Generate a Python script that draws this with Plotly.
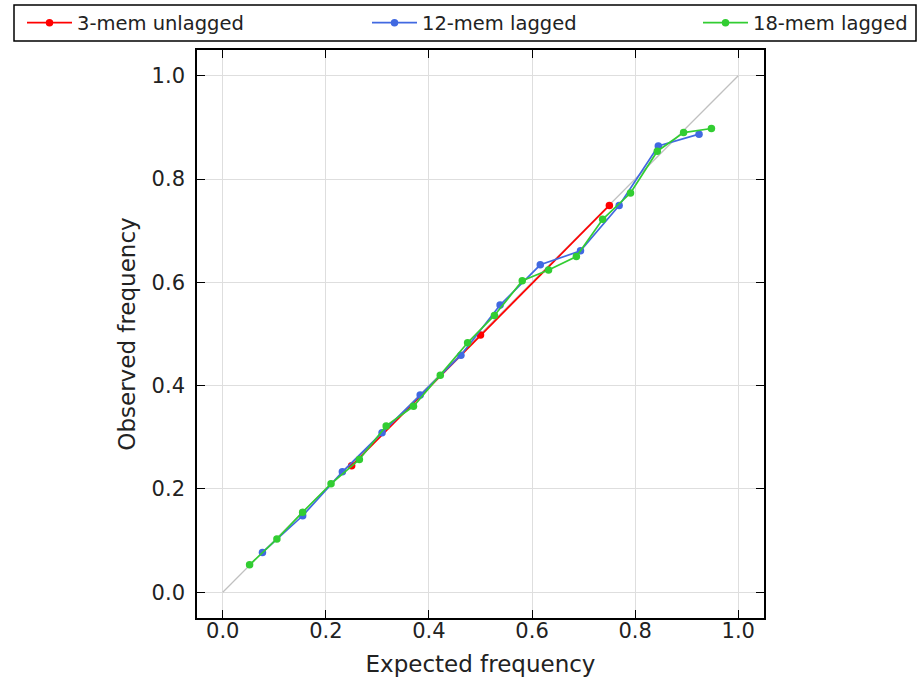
import plotly.graph_objects as go

# 3-member unlagged
x3 = [0.25, 0.50, 0.75]
y3 = [0.245, 0.498, 0.749]

# 12-member lagged
x12 = [0.077, 0.155, 0.232, 0.309, 0.383, 0.462, 0.538, 0.616, 0.694, 0.769, 0.845, 0.924]
y12 = [0.077, 0.148, 0.233, 0.309, 0.382, 0.459, 0.556, 0.634, 0.661, 0.749, 0.864, 0.887]

# 18-member lagged
x18 = [0.052, 0.105, 0.155, 0.210, 0.265, 0.317, 0.370, 0.422, 0.475, 0.527,
       0.581, 0.632, 0.686, 0.737, 0.791, 0.843, 0.894, 0.948]
y18 = [0.053, 0.103, 0.155, 0.210, 0.257, 0.322, 0.360, 0.420, 0.483, 0.536,
       0.603, 0.624, 0.650, 0.722, 0.773, 0.854, 0.890, 0.898]

diag = [0.0, 1.0]
ticks = [0.0, 0.2, 0.4, 0.6, 0.8, 1.0]
tick_text = ["0.0", "0.2", "0.4", "0.6", "0.8", "1.0"]

FONT = "DejaVu Sans"
TXT = "#222222"

# plot area in pixels
L, R, T, B = 197, 158, 50, 62
W, H = 922, 680
PW, PH = W - L - R, H - T - B


def px_x(p):
    return (p - L) / PW


def px_y(p):
    return (H - B - p) / PH


fig = go.Figure()
fig.add_trace(go.Scatter(x=diag, y=diag, mode="lines", line=dict(color="#c0c0c0", width=1.3),
                         showlegend=False, hoverinfo="skip"))
series = [
    ("3-mem unlagged", x3, y3, "#ff0000", "legend"),
    ("12-mem lagged", x12, y12, "#4169e1", "legend2"),
    ("18-mem lagged", x18, y18, "#32cd32", "legend3"),
]
for name, xs, ys, c, lg in series:
    fig.add_trace(go.Scatter(x=xs, y=ys, mode="lines+markers", name=name, legend=lg,
                             line=dict(color=c, width=1.7),
                             marker=dict(color=c, size=7.5)))

axis_common = dict(
    range=[-0.05, 1.05], tickvals=ticks, ticktext=tick_text,
    showgrid=True, gridcolor="#dedede", gridwidth=1, zeroline=False,
    showline=True, linecolor="black", linewidth=1.6, mirror="ticks",
    ticks="inside", ticklen=8, tickwidth=1.2, tickcolor="black",
    tickfont=dict(family=FONT, size=21, color=TXT), automargin=False,
)
fig.update_xaxes(**axis_common, ticklabelstandoff=-7,
                 title=dict(text="Expected frequency",
                            font=dict(family=FONT, size=23, color=TXT), standoff=14))
fig.update_yaxes(**axis_common, ticklabelstandoff=6,
                 title=dict(text="Observed frequency",
                            font=dict(family=FONT, size=23, color=TXT), standoff=10))

legend_starts = [22, 367, 698]
leg_common = dict(orientation="h", yanchor="middle", xanchor="left",
                  bgcolor="rgba(0,0,0,0)", borderwidth=0, itemwidth=45,
                  font=dict(family=FONT, size=19.5, color=TXT))

fig.update_layout(
    width=W, height=H,
    margin=dict(l=L, r=R, t=T, b=B, autoexpand=False),
    paper_bgcolor="white", plot_bgcolor="white",
    font=dict(family=FONT, size=16, color=TXT),
    legend=dict(**leg_common, x=px_x(legend_starts[0]), y=px_y(23)),
    legend2=dict(**leg_common, x=px_x(legend_starts[1]), y=px_y(23)),
    legend3=dict(**leg_common, x=px_x(legend_starts[2]), y=px_y(23)),
    shapes=[dict(type="rect", xref="paper", yref="paper",
                 x0=px_x(14), x1=px_x(916), y0=px_y(41), y1=px_y(5),
                 line=dict(color="black", width=1.5), fillcolor="rgba(0,0,0,0)",
                 layer="above")],
)
fig.write_html("out.html")
